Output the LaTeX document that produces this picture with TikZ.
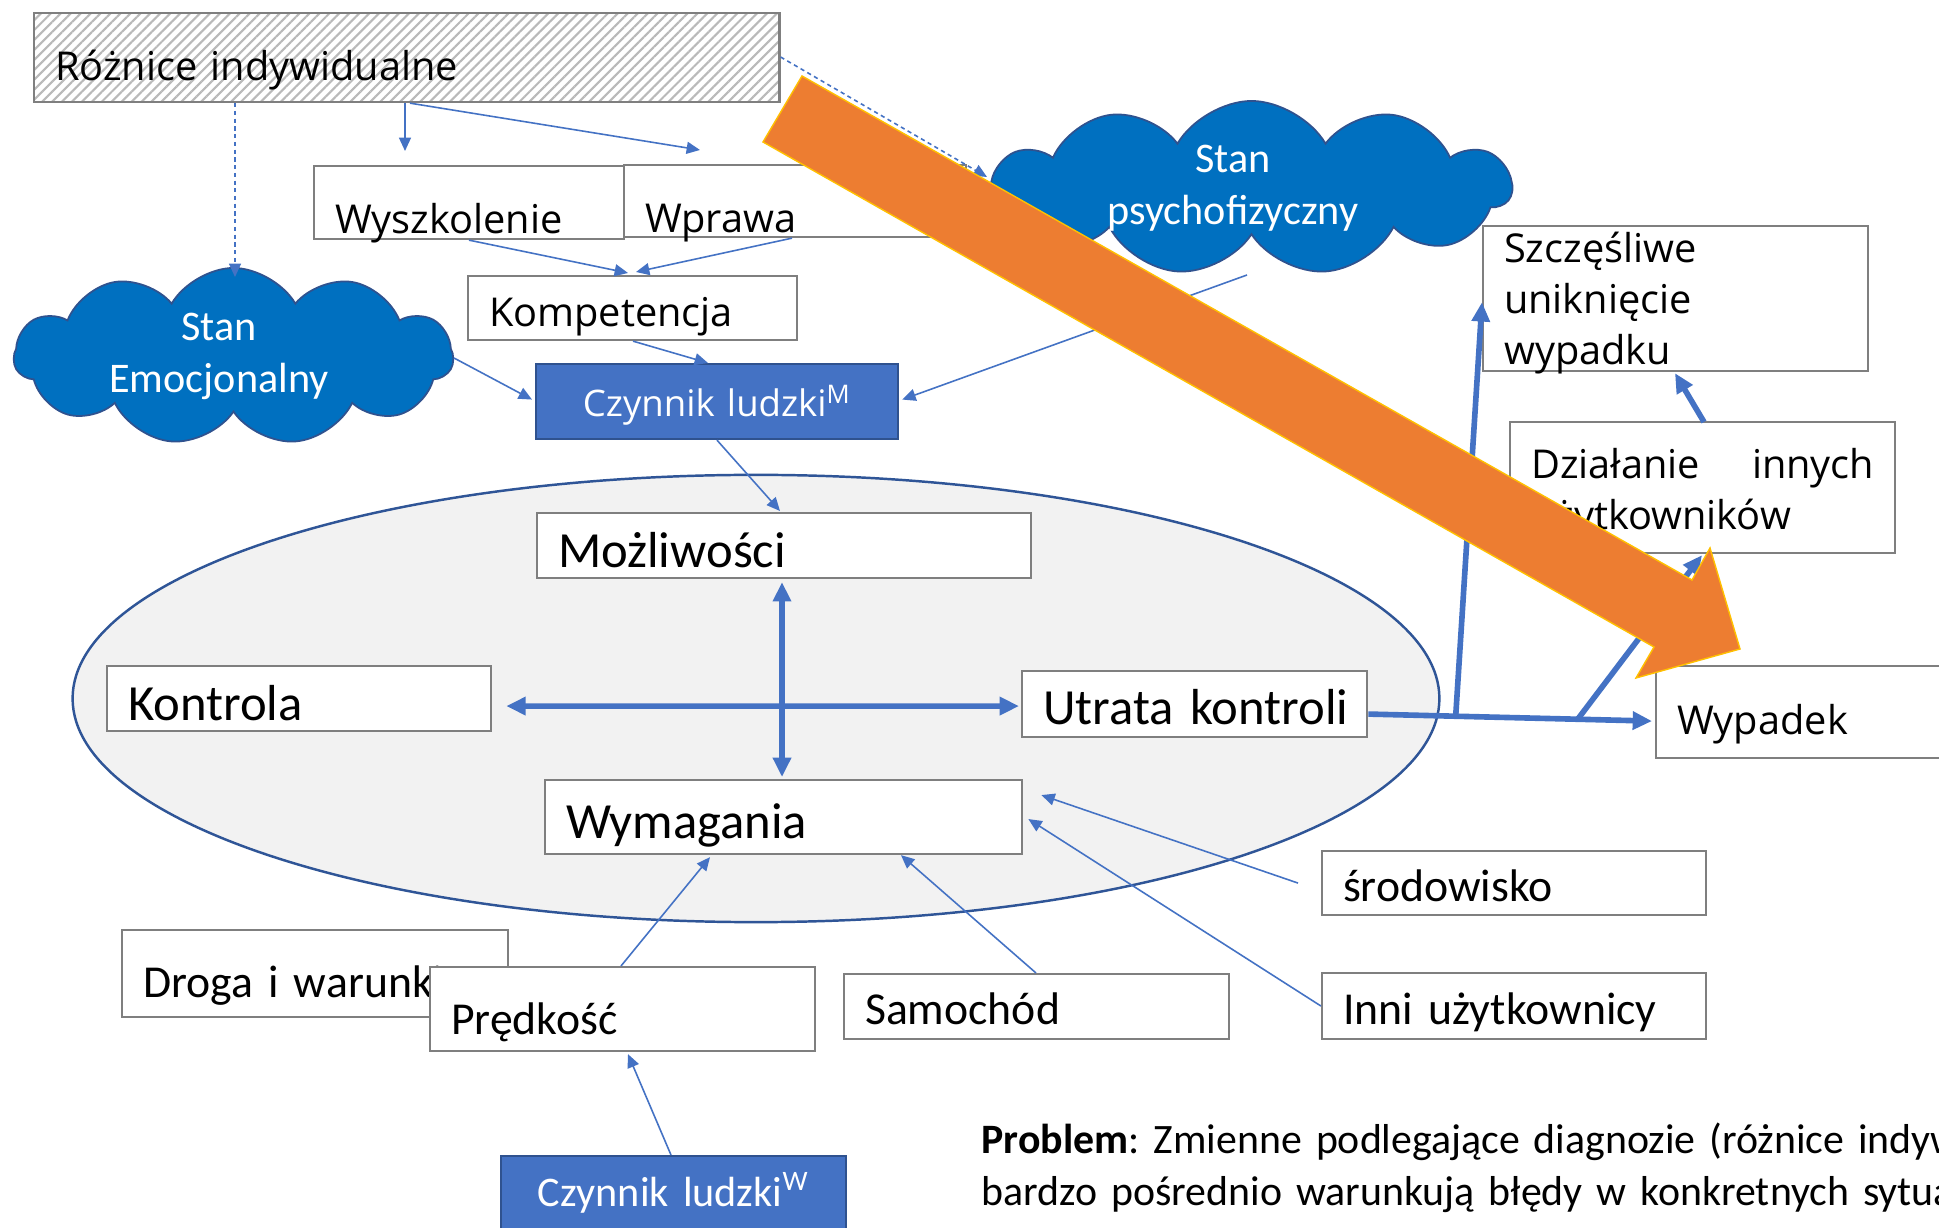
\documentclass[tikz,border=0pt]{standalone}
\usepackage{fontspec}
\setmainfont{Carlito}
\newfontfamily\segoe{Open Sans}
\usetikzlibrary{arrows.meta,calc,shapes.symbols,patterns.meta}
\definecolor{bl}{HTML}{4472C4}
\definecolor{db}{HTML}{2F528F}
\definecolor{cl}{HTML}{0070C0}
\definecolor{gy}{HTML}{7F7F7F}
\definecolor{lg}{HTML}{F2F2F2}
\definecolor{eb}{HTML}{2F5597}
\definecolor{or}{HTML}{ED7D31}
\definecolor{ye}{HTML}{FFC000}
\newcommand{\fA}{\segoe\fontsize{11.3}{14.5}\selectfont}
\newcommand{\fB}{\fontsize{14.4}{17}\selectfont}
\newcommand{\fC}{\fontsize{13}{15.5}\selectfont}
\newcommand{\fD}{\fontsize{12}{14.8}\selectfont}
\frenchspacing

\begin{document}
\begin{tikzpicture}[x=0.01cm, y=-0.01cm,
  box/.style={draw=gy, line width=0.6pt, fill=white, anchor=north west, inner xsep=0.21cm, inner ysep=0pt, align=left},
  dark/.style={box, fill=bl, draw=db, text=white, align=center},
  puff/.style={cloud, cloud puffs=11, cloud puff arc=120, cloud ignores aspect, inner sep=0pt, fill=cl, draw=db, line width=0.5pt},
  puff text/.style={text=white, align=center, font=\fD},
  thin arrow/.style={draw=bl, line width=0.45pt, -{Triangle[length=3.8pt,width=3.4pt]}},
  dash line/.style={thin arrow, dash pattern=on 1.2pt off 1pt},
  thick arrow/.style={draw=bl, line width=1.6pt, -{Triangle[length=5.5pt,width=5pt]}},
  both/.style={thick arrow, {Triangle[length=5.5pt,width=5pt]}-{Triangle[length=5.5pt,width=5pt]}}]

  \useasboundingbox (0,0) rectangle (1939,1228);
  \fill[white] (0,0) rectangle (1939,1228);
  \clip (0,0) rectangle (1939,1228);

  % Top row
  \node[box, font=\fA, fill=gray!8, pattern={Lines[angle=45,distance=2pt,line width=0.6pt]}, pattern color=gray!55,
    text width=7.03cm, text height=0.67cm, text depth=0.22cm] (roznice) at (33,12) {\mbox{Różnice indywidualne}};
  \node[box, font=\fA, text width=2.68cm, text height=0.67cm, text depth=0.06cm] (wysz) at (313,165) {Wyszkolenie};
  \node[box, font=\fA, text width=3.00cm, text height=0.67cm, text depth=0.05cm] (wprawa) at (623,164) {Wprawa};
  \node[box, font=\fA, text width=2.87cm, text height=0.50cm, text depth=0.14cm] (komp) at (467,275) {Kompetencja};
  \node[dark, font=\segoe\fontsize{10.4}{12}\selectfont, text width=3.20cm, text height=0.52cm, text depth=0.23cm] (czynM) at (535,363) {\mbox{Czynnik ludzki\textsuperscript{M}}};

  % Clouds
  \node[puff, minimum width=4.39cm, minimum height=1.77cm,
    label={[puff text, xshift=-0.145cm]center:Stan\\Emocjonalny}] (emoc) at (233.5,356.5) {};
  \node[puff, minimum width=5.19cm, minimum height=1.74cm,
    label={[puff text, xshift=-0.185cm]center:Stan\\psychofizyczny}] (psycho) at (1251.5,188) {};

  % Ellipse
  \draw[draw=eb, line width=0.7pt, fill=lg] (756,698.5) ellipse [x radius=6.83cm, y radius=2.235cm];
  \node[box, font=\fB, text width=4.52cm, text height=0.54cm, text depth=0.11cm] (mozl) at (536,512) {Możliwości};
  \node[box, font=\fB, text width=3.42cm, text height=0.54cm, text depth=0.11cm] (kontrola) at (106,665) {Kontrola};
  \node[box, font=\fB, text width=3.03cm, text height=0.53cm, text depth=0.13cm] (utrata) at (1021,670) {\mbox{Utrata kontroli}};
  \node[box, font=\fB, text width=4.35cm, text height=0.58cm, text depth=0.16cm] (wymag) at (544,779) {Wymagania};

  % Right side
  \node[box, font=\fA, text width=3.08cm, text height=0.68cm, text depth=0.24cm] (wypadek) at (1655,665) {Wypadek};
  \node[box, font=\fA, text width=3.43cm, text height=0.36cm, text depth=1.09cm] (szcz) at (1482,225) {Szczęśliwe\\uniknięcie\\wypadku};
  \node[box, font=\fA, align=justify, text width=3.43cm, text height=0.56cm, text depth=0.75cm] (dzial) at (1509,421) {Działanie innych użytkowników};

  % Bottom
  \node[box, font=\fC, text width=3.42cm, text height=0.50cm, text depth=0.14cm] (srod) at (1321,850) {środowisko};
  \node[box, font=\fC, text width=3.42cm, text height=0.51cm, text depth=0.15cm] (inni) at (1321,972) {\mbox{Inni użytkownicy}};
  \node[box, font=\fC, text width=3.43cm, text height=0.50cm, text depth=0.15cm] (samoch) at (843,973) {Samochód};
  \node[box, font=\fC, text width=3.44cm, text height=0.67cm, text depth=0.20cm] (droga) at (121,929) {\mbox{Droga i warunki}};
  \node[box, font=\fC, text width=3.43cm, text height=0.67cm, text depth=0.17cm] (predk) at (429,966) {Prędkość};
  \node[dark, font=\fD, text width=3.03cm, text height=0.50cm, text depth=0.25cm] (czynW) at (500,1155) {\mbox{Czynnik ludzki\textsuperscript{W}}};

  \node[anchor=base west, inner sep=0pt, text width=16cm, align=left, font=\fontsize{11.9}{14.8}\selectfont] (problem) at (981,1153)
    {\textbf{Problem}: Zmienne podlegające diagnozie (różnice indywidualne)\\bardzo pośrednio warunkują błędy w konkretnych sytuacjach};

  % Thin arrows
  \draw[thin arrow] ($(roznice.south west)+(372,0)$) -- ($(wysz.north west)+(92,-14)$);
  \draw[thin arrow] ($(roznice.south west)+(377,0)$) -- ($(wprawa.north west)+(77,-14)$);
  \draw[dash line] ($(roznice.south west)+(202,0)$) -- ($(emoc.center)+(1.5,-79.5)$);
  \draw[dash line] ($(roznice.north east)+(0,45)$) -- ($(psycho.center)+(-264.5,-11)$);
  \draw[thin arrow] ($(wysz.south west)+(156,0)$) -- ($(komp.north west)+(161,-2)$);
  \draw[thin arrow] ($(wprawa.south west)+(169,0)$) -- ($(komp.north west)+(169,-3)$);
  \draw[thin arrow] ($(komp.south west)+(166,0)$) -- ($(czynM.north west)+(173,0)$);
  \draw[thin arrow] ($(emoc.center)+(220.5,1.5)$) -- ($(czynM.west)+(-3,-2)$);
  \draw[thin arrow] ($(psycho.center)+(-4.5,87)$) -- ($(czynM.east)+(3,-2)$);
  \draw[thin arrow] ($(czynM.south west)+(182,0)$) -- ($(mozl.north west)+(244,-1)$);
  \draw[thin arrow] ($(predk.north west)+(192,0)$) -- ($(wymag.south west)+(166,2)$);
  \draw[thin arrow] ($(samoch.north west)+(193,0)$) -- ($(wymag.south west)+(357,0)$);
  \draw[thin arrow] ($(srod.west)+(-23,0)$) -- ($(wymag.east)+(18,-22)$);
  \draw[thin arrow] (inni.west) -- ($(wymag.east)+(5,2)$);
  \draw[thin arrow] ($(czynW.north west)+(171,0)$) -- ($(predk.south west)+(199,2)$);

  % Thick arrows
  \draw[both] ($(mozl.south west)+(246,3)$) -- ($(wymag.north west)+(238,-2)$);
  \draw[both] ($(kontrola.east)+(14,7.5)$) -- ($(utrata.west)+(-2,2)$);
  \coordinate (u) at ($(utrata.east)+(0,10)$);
  \coordinate (w) at ($(wypadek.west)+(-3,9)$);
  \coordinate (j1) at ($(u)!0.308!(w)$);
  \coordinate (j2) at ($(u)!0.738!(w)$);
  \draw[thick arrow] (u) -- (w);
  \draw[thick arrow] (j1) -- ($(szcz.south west)+(0,-70)$);
  \draw[thick arrow] (j2) -- ($(dzial.south west)+(193,1)$);
  \draw[thick arrow] ($(dzial.north west)+(195,1)$) -- ($(szcz.south west)+(193,1)$);

  % Orange arrow
  \filldraw[fill=or, draw=ye, line width=0.4pt] (802,76) -- (1692,580) -- (1710,548) -- (1740,649)
    -- (1636,678) -- (1654,647) -- (763,142) -- cycle;
\end{tikzpicture}
\end{document}
